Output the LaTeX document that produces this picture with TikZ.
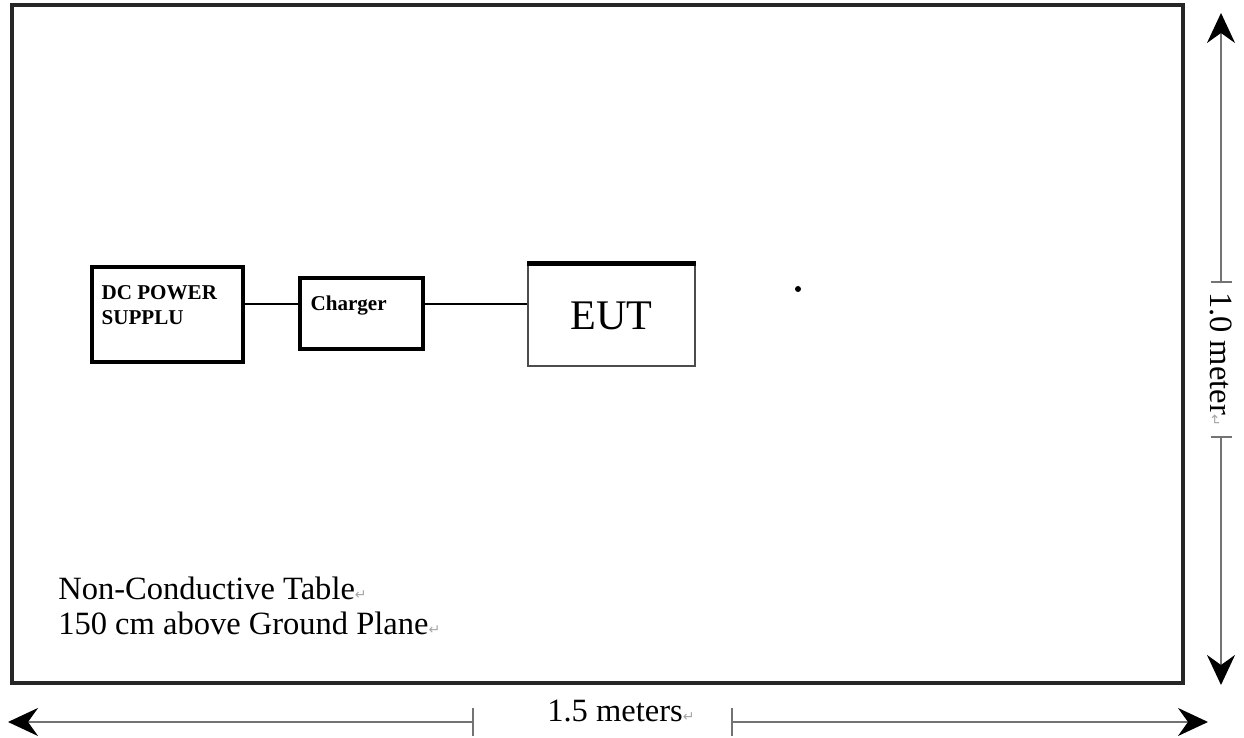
\documentclass[tikz,border=0pt]{standalone}
\usepackage{fontspec}
\setmainfont{Liberation Serif}
\newfontfamily\marksfont{DejaVu Sans}
\usetikzlibrary{arrows.meta}
\newcommand{\pmark}{{\marksfont\fontsize{8}{8}\selectfont\textcolor{black!35}{↵}}}
\tikzset{bx/.style = {draw, line width=2pt, inner sep=0pt},
         eb/.style = {draw=black!70, line width=1.3pt, inner sep=0pt},
         tx/.style = {inner sep=0pt, align=left, font=\bfseries\fontsize{12}{14.2}\selectfont},
         lb/.style = {inner sep=0pt, font=\fontsize{18.5}{20}\selectfont},
         dm/.style = {draw=black!55, line width=1.2pt},
         tp/.style = {-{Stealth[length=6mm, width=5.6mm, inset=2mm, color=black]}}}

\begin{document}
\begin{tikzpicture}
  \useasboundingbox (0,0) rectangle (24.88,14.76);
  % table top
  \node[bx, draw=black!85, minimum width=23.42cm, minimum height=13.56cm] (table) at (11.95,7.88) {};
  \node[lb, anchor=base west] (tbl1) at (1.16,2.76) {Non-Conductive Table\pmark};
  \node[lb, anchor=base west] (tbl2) at (1.16,2.06) {150 cm above Ground Plane\pmark};
  % equipment
  \node[bx, minimum width=3.02cm, minimum height=1.90cm] (dc) at (3.35,8.47) {};
  \node[bx, minimum width=2.46cm, minimum height=1.42cm] (chg) at (7.23,8.49) {};
  \node[eb, minimum width=3.34cm, minimum height=2.02cm, font=\fontsize{24}{24}\selectfont] (eut) at (12.23,8.45) {EUT};
  \draw[line width=3pt] (eut.north west) -- (eut.north east);
  \node[tx, anchor=north west] (dclbl) at ([shift={(0.22,-0.40)}]dc.north west) {DC POWER\\SUPPLU};
  \node[tx, anchor=north west] (chglbl) at ([shift={(0.24,-0.38)}]chg.north west) {Charger};
  \node[circle, fill, minimum size=1.2mm, inner sep=0pt] (dot) at (15.96,8.98) {};
  % cables
  \coordinate (wire) at (0,8.68);
  \draw[line width=1.6pt] (dc.east |- wire) -- (chg.west |- wire);
  \draw[line width=1.6pt] (chg.east |- wire) -- (eut.west |- wire);
  % 1.5 m
  \coordinate (wl) at (0.16,0.32); \coordinate (wa) at (9.46,0.32);
  \coordinate (wb) at (14.64,0.32); \coordinate (wr) at (24.16,0.32);
  \draw[dm, tp] (wa) -- (wl);
  \draw[dm, tp] (wb) -- (wr);
  \draw[dm] ([yshift=2.8mm]wa) -- ([yshift=-2.8mm]wa);
  \draw[dm] ([yshift=2.8mm]wb) -- ([yshift=-2.8mm]wb);
  \node[lb, anchor=base west] (wlbl) at (10.94,0.32) {1.5 meters\pmark};
  % 1.0 m
  \coordinate (ht) at (24.42,14.50); \coordinate (ha) at (24.42,9.12);
  \coordinate (hb) at (24.42,6.02); \coordinate (hd) at (24.42,1.06);
  \draw[dm, tp] (ha) -- (ht);
  \draw[dm, tp] (hb) -- (hd);
  \draw[dm] ([xshift=-2.1mm]ha) -- ([xshift=2.1mm]ha);
  \draw[dm] ([xshift=-2.1mm]hb) -- ([xshift=2.1mm]hb);
  \node[lb, rotate=-90] (hlbl) at (24.42,7.57) {1.0 meter\pmark};
\end{tikzpicture}
\end{document}
